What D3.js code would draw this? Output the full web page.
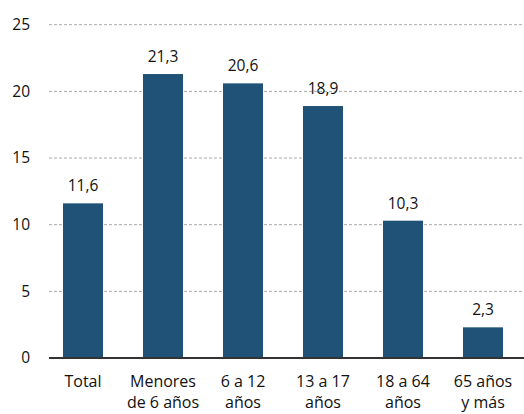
<!DOCTYPE html>
<html>
<head>
<meta charset="utf-8">
<script src="https://cdn.jsdelivr.net/npm/d3@7"></script>
<style>
  body { margin: 0; background: #fff; }
  text { font-family: "Open Sans", "Noto Sans", sans-serif; fill: #111; }
</style>
</head>
<body>
<div id="chart"></div>
<script>
// chart data
var categories = ["Total", "Menores\nde 6 años", "6 a 12\naños", "13 a 17\naños", "18 a 64\naños", "65 años\ny más"];
var values = [11.6, 21.3, 20.6, 18.9, 10.3, 2.3];
var yTicks = [0, 5, 10, 15, 20, 25];

var width = 524, height = 414;

var svg = d3.select("#chart").append("svg")
    .attr("width", width)
    .attr("height", height);

var x = d3.scaleBand()
    .domain(categories)
    .range([43, 523])
    .paddingInner(0.5)
    .paddingOuter(0.25);

var y = d3.scaleLinear().domain([0, 25]).range([358, 24.7]);

// gridlines
svg.append("g").selectAll("line")
    .data(yTicks.filter(function(d) { return d > 0; }))
    .enter().append("line")
    .attr("x1", 49).attr("x2", width)
    .attr("y1", function(d) { return y(d); })
    .attr("y2", function(d) { return y(d); })
    .attr("stroke", "#aaa")
    .attr("stroke-width", 1)
    .attr("stroke-dasharray", "3,2");

// y tick labels
svg.append("g").selectAll("text")
    .data(yTicks)
    .enter().append("text")
    .attr("x", 30)
    .attr("y", function(d) { return y(d); })
    .attr("dy", "0.35em")
    .attr("text-anchor", "end")
    .style("font-size", "15.5px")
    .text(function(d) { return d; });

// bars
svg.append("g").selectAll("rect")
    .data(values)
    .enter().append("rect")
    .attr("x", function(d, i) { return x(categories[i]); })
    .attr("y", function(d) { return y(d); })
    .attr("width", x.bandwidth())
    .attr("height", function(d) { return y(0) - y(d); })
    .attr("fill", "#1f5276");

// value labels
svg.append("g").selectAll("text")
    .data(values)
    .enter().append("text")
    .attr("x", function(d, i) { return x(categories[i]) + x.bandwidth() / 2; })
    .attr("y", function(d) { return y(d) - 12; })
    .attr("text-anchor", "middle")
    .style("font-size", "15.5px")
    .text(function(d) { return String(d).replace(".", ","); });

// baseline
svg.append("line")
    .attr("x1", 49).attr("x2", width)
    .attr("y1", y(0)).attr("y2", y(0))
    .attr("stroke", "#333")
    .attr("stroke-width", 2);

// category labels, one text per line
var lines = [];
categories.forEach(function(c) {
    c.split("\n").forEach(function(t, i) { lines.push({ cat: c, t: t, row: i }); });
});

svg.append("g").selectAll("text")
    .data(lines)
    .enter().append("text")
    .attr("x", function(d) { return x(d.cat) + x.bandwidth() / 2; })
    .attr("y", function(d) { return 387 + d.row * 21; })
    .attr("text-anchor", "middle")
    .style("font-size", "16px")
    .text(function(d) { return d.t; });
</script>
</body>
</html>
